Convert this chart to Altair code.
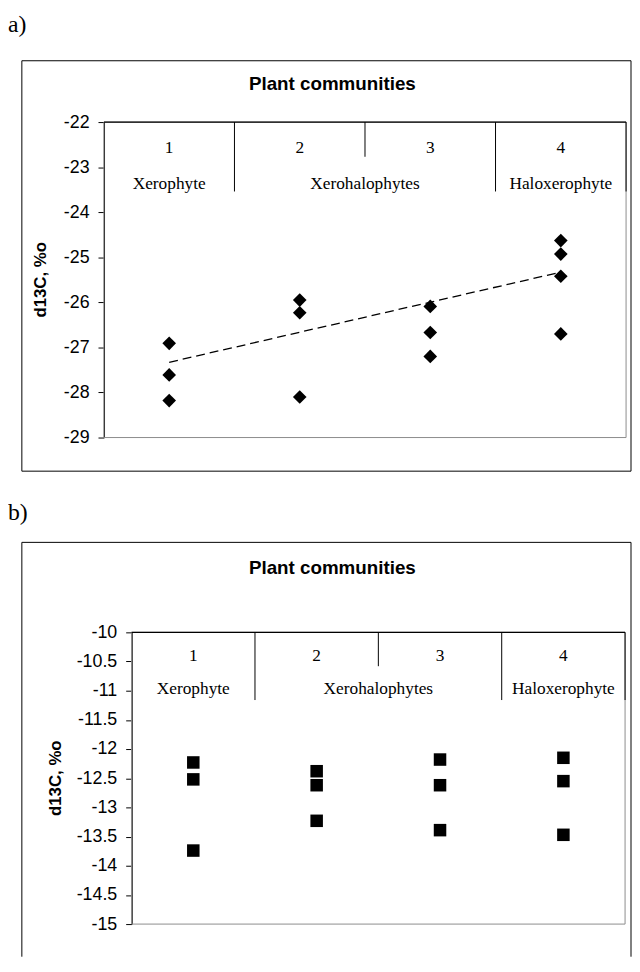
import altair as alt
import pandas as pd

# ---------------- data ----------------
# panel a)
top_group = [1, 1, 1, 2, 2, 2, 3, 3, 3, 4, 4, 4, 4]
top_value = [-26.91, -27.61, -28.18, -25.95, -26.23, -28.10,
             -26.09, -26.67, -27.20, -24.63, -24.93, -25.42, -26.70]
trend_x = [1, 4]
trend_y = [-27.33, -25.33]
top_ticks = [-29, -28, -27, -26, -25, -24, -23, -22]

# panel b)
bottom_group = [1, 1, 1, 2, 2, 2, 3, 3, 3, 4, 4, 4]
bottom_value = [-12.23, -12.52, -13.74, -12.38, -12.62, -13.23,
                -12.18, -12.62, -13.39, -12.15, -12.55, -13.47]
bottom_ticks = [-15, -14.5, -14, -13.5, -13, -12.5, -12, -11.5, -11, -10.5, -10]

# header table (plant community numbers and types)
header_numbers = ["1", "2", "3", "4"]
header_number_x = [1, 2, 3, 4]
header_types = ["Xerophyte", "Xerohalophytes", "Haloxerophyte"]
header_type_x = [1, 2.5, 4]
divider_x = [1.5, 2.5, 3.5, 4.5]
top_divider_end = [-23.54, -22.77, -23.54, -23.54]
bottom_divider_end = [-11.16, -10.58, -11.16, -11.16]

TITLE = "Plant communities"
YTITLE = "d13C, %o"

SANS = "Liberation Sans"
SERIF = "Liberation Serif"
one = pd.DataFrame({"k": [0]})


def panel(label, label_y, pts, shape, size, ydom, yticks, height, width,
          xrange, axis_offset, div_end, num_y, type_y, title_y, ytitle_x,
          frame_top, frame_bottom, bounds_top, bounds_bottom, closed_frame,
          trend=None, fmt="d"):
    xs = alt.Scale(domain=[0.5, 4.5], nice=False, zero=False, range=xrange)
    ys = alt.Scale(domain=ydom, nice=False, zero=False)
    yaxis = alt.Axis(values=yticks, title=None, grid=False,
                     tickSize=6, labelPadding=9, offset=axis_offset,
                     domainColor="black", tickColor="black",
                     domainWidth=1.2, tickWidth=1,
                     labelColor="black", labelFont=SANS,
                     labelFontSize=18, format=fmt,
                     labelExpr="replace(datum.label, '\u2212', '-')",
                     labelFlush=False, labelOverlap=False)
    X = lambda f: alt.X(f, type="quantitative", scale=xs, axis=None)
    Y = lambda f: alt.Y(f, type="quantitative", scale=ys, axis=yaxis)

    layers = []
    # invisible bounds (controls placement of the panel on the page)
    layers.append(alt.Chart(one).mark_rect(opacity=0).encode(
        x=alt.value(-83), x2=alt.value(533),
        y=alt.value(bounds_top), y2=alt.value(bounds_bottom)))
    # outer frame
    if closed_frame:
        layers.append(alt.Chart(one).mark_rect(filled=False, color="black", strokeWidth=1).encode(
            x=alt.value(-83), x2=alt.value(533),
            y=alt.value(frame_top), y2=alt.value(frame_bottom)))
    else:
        layers.append(alt.Chart(one).mark_rule(color="black", strokeWidth=1).encode(
            x=alt.value(-83), y=alt.value(frame_top), y2=alt.value(frame_bottom)))
        layers.append(alt.Chart(one).mark_rule(color="black", strokeWidth=1).encode(
            x=alt.value(533), y=alt.value(frame_top), y2=alt.value(frame_bottom)))
        layers.append(alt.Chart(one).mark_rule(color="black", strokeWidth=1).encode(
            x=alt.value(-83), x2=alt.value(533), y=alt.value(frame_top)))
    # plot-area border (grey)
    layers.append(alt.Chart(one).mark_rect(filled=False, color="#8c8c8c", strokeWidth=1).encode(
        x=alt.value(xrange[0]), x2=alt.value(xrange[1]),
        y=alt.value(0), y2=alt.value(height)))
    # header table lines
    layers.append(alt.Chart(pd.DataFrame({"x": [0.5], "x2": [4.5], "y": [ydom[1]]}))
                  .mark_rule(color="black", strokeWidth=1.2)
                  .encode(x=X("x"), x2="x2", y=Y("y")))
    layers.append(alt.Chart(pd.DataFrame({"x": divider_x, "y": [ydom[1]] * 4, "y2": div_end}))
                  .mark_rule(color="black", strokeWidth=1)
                  .encode(x=X("x"), y=Y("y"), y2="y2"))
    layers.append(alt.Chart(pd.DataFrame({"x": header_number_x, "t": header_numbers, "y": [num_y] * 4}))
                  .mark_text(font=SERIF, fontSize=17.5, color="black", baseline="middle")
                  .encode(x=X("x"), y=Y("y"), text="t:N"))
    layers.append(alt.Chart(pd.DataFrame({"x": header_type_x, "t": header_types, "y": [type_y] * 3}))
                  .mark_text(font=SERIF, fontSize=17.5, color="black", baseline="middle")
                  .encode(x=X("x"), y=Y("y"), text="t:N"))
    # trend line
    if trend is not None:
        layers.append(alt.Chart(pd.DataFrame({"x": trend[0], "y": trend[1]}))
                      .mark_line(color="black", strokeWidth=1.3, strokeDash=[9, 5])
                      .encode(x=X("x"), y=Y("y")))
    # data points
    layers.append(alt.Chart(pts).mark_point(shape=shape, filled=True, color="black",
                                            size=size, opacity=1)
                  .encode(x=X("x"), y=Y("y")))
    # titles
    layers.append(alt.Chart(one).mark_text(text=TITLE, font=SANS, fontSize=19, fontWeight="bold",
                                           color="black", baseline="middle")
                  .encode(x=alt.value(231), y=alt.value(title_y)))
    layers.append(alt.Chart(one).mark_text(text=YTITLE, font=SANS, fontSize=17, fontWeight="bold",
                                           color="black", baseline="middle", angle=270)
                  .encode(x=alt.value(ytitle_x), y=alt.value(height / 2)))
    layers.append(alt.Chart(one).mark_text(text=label, font=SERIF, fontSize=24, color="black",
                                           align="left", baseline="middle")
                  .encode(x=alt.value(-97), y=alt.value(label_y)))
    return alt.layer(*layers).properties(width=width, height=height)


top_pts = pd.DataFrame({"x": top_group, "y": top_value})
bottom_pts = pd.DataFrame({"x": bottom_group, "y": bottom_value})

top = panel("a)", -98, top_pts, "diamond", 190, [-29, -22], top_ticks, 319, 528,
            [0, 528], 0, top_divider_end, -22.58, -23.38, -38, -64,
            -62, 353, -110, 362, True, trend=(trend_x, trend_y), fmt="d")

bottom = panel("b)", -121, bottom_pts, "square", 160, [-15, -10], bottom_ticks, 295, 527,
               [28, 527], -28, bottom_divider_end, -10.41, -10.98, -65, -48,
               -91, 328, -154, 328, False, fmt="")

chart = alt.vconcat(top, bottom, spacing=0).properties(
    padding={"left": 0, "top": 0, "right": 0, "bottom": 0}
).configure_view(strokeWidth=0)

chart.save("out.html", embed_options={"renderer": "svg", "actions": False})
